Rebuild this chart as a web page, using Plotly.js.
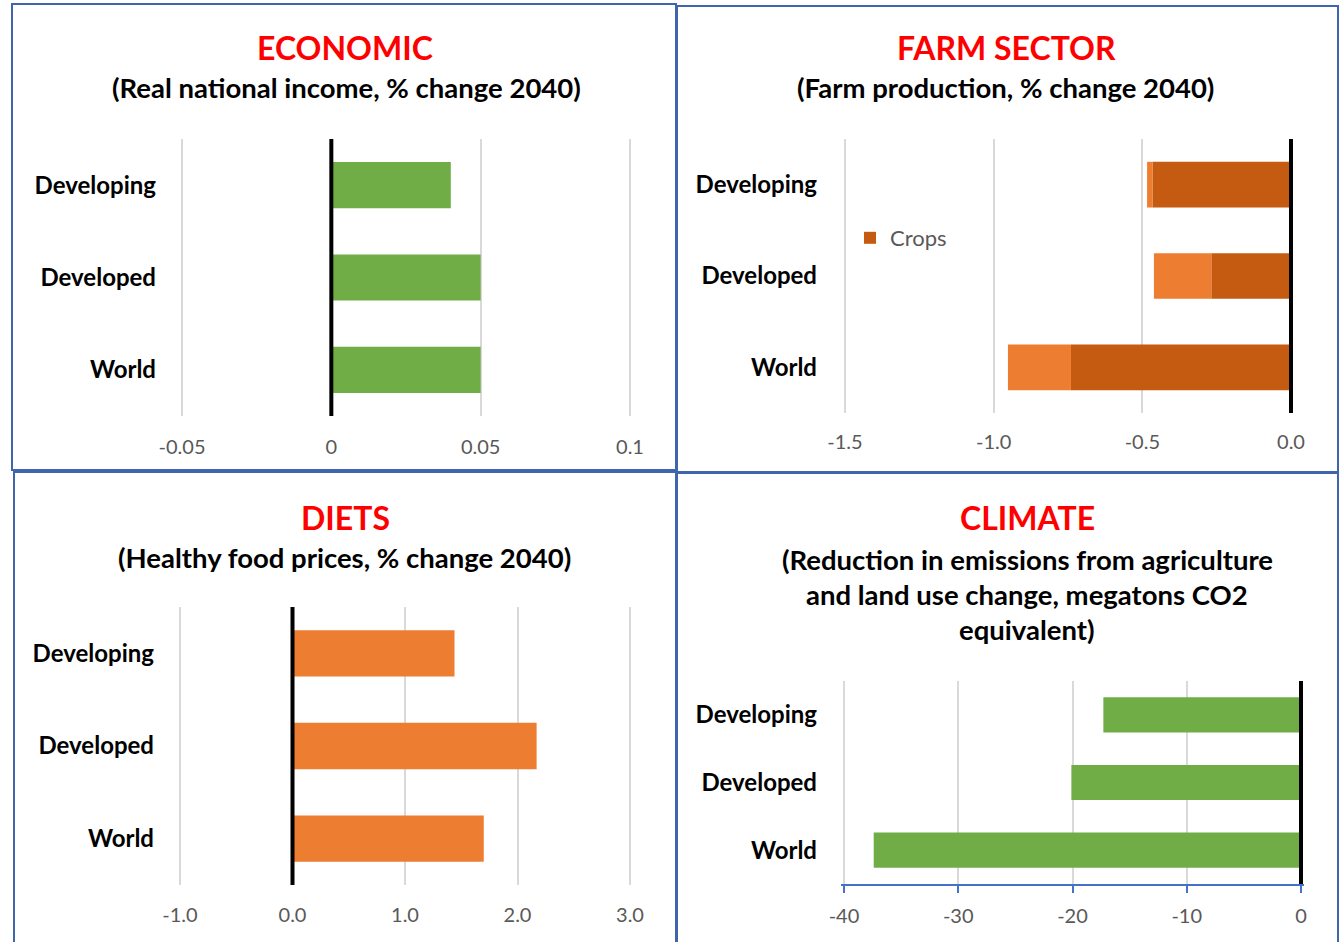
<!DOCTYPE html>
<html>
<head>
<meta charset="utf-8">
<script src="https://cdn.plot.ly/plotly-3.0.1.min.js"></script>
<style>
  html, body { margin: 0; padding: 0; background: #ffffff; }
  #chart { width: 1340px; height: 942px; }
</style>
</head>
<body>
<div id="chart"></div>
<script>
// ---- Data ----
const categories = ['Developing', 'Developed', 'World'];
const incomeChange = [0.04, 0.05, 0.05];          // Real national income, % change 2040
const farmCrops = [-0.466, -0.268, -0.74];        // Farm production: crops
const farmLivestock = [-0.018, -0.193, -0.212];   // Farm production: livestock
const foodPrices = [1.44, 2.17, 1.70];            // Healthy food prices, % change 2040
const emissionCut = [-17.3, -20.1, -37.4];        // Megatons CO2 equivalent

const incomeTicks = [-0.05, 0, 0.05, 0.1];
const incomeTickText = ['-0.05', '0', '0.05', '0.1'];
const farmTicks = [-1.5, -1.0, -0.5, 0.0];
const farmTickText = ['-1.5', '-1.0', '-0.5', '0.0'];
const dietTicks = [-1, 0, 1, 2, 3];
const dietTickText = ['-1.0', '0.0', '1.0', '2.0', '3.0'];
const climateTicks = [-40, -30, -20, -10, 0];
const climateTickText = ['-40', '-30', '-20', '-10', '0'];

const panelTitles = ['ECONOMIC', 'FARM SECTOR', 'DIETS', 'CLIMATE'];
const panelSubtitles = [
  ['(Real national income, % change 2040)'],
  ['(Farm production, % change 2040)'],
  ['(Healthy food prices, % change 2040)'],
  ['(Reduction in emissions from agriculture', 'and land use change, megatons CO2', 'equivalent)']
];

// ---- Page geometry helpers (pixels -> paper fraction) ----
const W = 1340, H = 942;
const px = x => x / W;
const py = y => 1 - y / H;

const FONT = 'Lato, "Open Sans", sans-serif';
const GREEN = '#70AD47', ORANGE = '#ED7D31', DARK_ORANGE = '#C55A11';
const GRID = '#D9D9D9', TICKGRAY = '#595959', FRAME = '#3F65AD';

const traces = [
  { type: 'bar', orientation: 'h', x: incomeChange, y: categories, xaxis: 'x', yaxis: 'y',
    marker: { color: GREEN }, width: 0.5, showlegend: false, hoverinfo: 'x+y' },
  { type: 'bar', orientation: 'h', x: farmCrops, y: categories, xaxis: 'x2', yaxis: 'y2',
    name: 'Crops', marker: { color: DARK_ORANGE }, width: 0.5, showlegend: true },
  { type: 'bar', orientation: 'h', x: farmLivestock, y: categories, xaxis: 'x2', yaxis: 'y2',
    name: 'Livestock', marker: { color: ORANGE }, width: 0.5, showlegend: false },
  { type: 'bar', orientation: 'h', x: foodPrices, y: categories, xaxis: 'x3', yaxis: 'y3',
    marker: { color: ORANGE }, width: 0.5, showlegend: false },
  { type: 'bar', orientation: 'h', x: emissionCut, y: categories, xaxis: 'x4', yaxis: 'y4',
    marker: { color: GREEN }, width: 0.52, showlegend: false }
];

// Value axis placed so that v0..v1 spans pixels p0..p1, padded a few pixels
// on each side so the gridlines at the end values are still drawn.
function xAxis(p0, p1, v0, v1, vals, text, standoff, extra) {
  const pad = 3, k = (v1 - v0) / (p1 - p0);
  return Object.assign({
    domain: [px(p0 - pad), px(p1 + pad)], range: [v0 - k * pad, v1 + k * pad],
    tickmode: 'array', tickvals: vals, ticktext: text,
    showgrid: true, gridcolor: GRID, gridwidth: 2, zeroline: false, showline: false,
    ticks: '', ticklabelstandoff: standoff,
    tickfont: { family: FONT, size: 20, color: TICKGRAY }, fixedrange: true
  }, extra || {});
}
function yAxis(top, bottom, standoff, anchor) {
  return {
    anchor: anchor,
    domain: [py(bottom), py(top)], type: 'category',
    categoryorder: 'array', categoryarray: categories, range: [2.5, -0.5],
    showgrid: false, zeroline: false, showline: false, ticks: '',
    ticklabelstandoff: standoff,
    tickfont: { family: FONT, size: 24, color: '#000000', weight: 700 }, fixedrange: true
  };
}

const layout = {
  width: W, height: H, margin: { l: 0, r: 0, t: 0, b: 0 },
  paper_bgcolor: '#ffffff', plot_bgcolor: 'rgba(0,0,0,0)',
  barmode: 'relative', font: { family: FONT },
  xaxis:  xAxis(182, 630, -0.05, 0.1, incomeTicks, incomeTickText, 17, { anchor: 'y' }),
  yaxis:  yAxis(139, 416, 22, 'x'),
  xaxis2: xAxis(845, 1291, -1.5, 0, farmTicks, farmTickText, 15, { anchor: 'y2' }),
  yaxis2: yAxis(139, 413, 24, 'x2'),
  xaxis3: xAxis(180, 630, -1, 3, dietTicks, dietTickText, 16, { anchor: 'y3' }),
  yaxis3: yAxis(607, 885, 22, 'x3'),
  xaxis4: xAxis(844, 1301, -40, 0, climateTicks, climateTickText, 6, {
    anchor: 'y4', showline: true, linecolor: '#4472C4', linewidth: 2,
    ticks: 'outside', ticklen: 7, tickwidth: 2, tickcolor: '#4472C4' }),
  yaxis4: yAxis(681, 884, 23, 'x4'),
  legend: {
    x: px(850), y: py(238), xanchor: 'left', yanchor: 'middle',
    bgcolor: 'rgba(0,0,0,0)', font: { family: FONT, size: 22, color: TICKGRAY }
  },
  shapes: [],
  annotations: []
};

// Zero lines for each panel
['', '2', '3', '4'].forEach(k => {
  layout.shapes.push({ type: 'line', xref: 'x' + k, yref: 'paper',
    x0: 0, x1: 0,
    y0: layout['yaxis' + k].domain[0], y1: layout['yaxis' + k].domain[1],
    line: { color: '#000000', width: 4 }, layer: 'above' });
});

// Panel frames
const frames = [[12, 4, 676, 470], [677, 6, 1338, 472], [14, 472, 676, 944], [677, 473, 1338, 944]];
frames.forEach(f => {
  layout.shapes.push({ type: 'rect', xref: 'paper', yref: 'paper',
    x0: px(f[0]), x1: px(f[2]), y0: py(f[3]), y1: py(f[1]),
    line: { color: FRAME, width: 2 }, fillcolor: 'rgba(0,0,0,0)', layer: 'below' });
});

// Panel headings
const titlePos = [[345, 48], [1006, 48], [345, 517], [1027, 517]];
const subtitlePos = [[346, 88, 0], [1005, 88, 0], [344, 557, 0], [1027, 559, 35]];
panelTitles.forEach((t, i) => {
  layout.annotations.push({ xref: 'paper', yref: 'paper', x: px(titlePos[i][0]), y: py(titlePos[i][1]),
    xanchor: 'center', yanchor: 'middle', showarrow: false, text: t,
    font: { family: FONT, size: 32, color: '#FF0000', weight: 700 } });
  panelSubtitles[i].forEach((line, j) => {
    layout.annotations.push({ xref: 'paper', yref: 'paper',
      x: px(subtitlePos[i][0]), y: py(subtitlePos[i][1] + j * subtitlePos[i][2]),
      xanchor: 'center', yanchor: 'middle', showarrow: false, text: line,
      font: { family: FONT, size: 27.5, color: '#000000', weight: 700 } });
  });
});

Plotly.newPlot('chart', traces, layout, { displayModeBar: false, staticPlot: true });
</script>
</body>
</html>
